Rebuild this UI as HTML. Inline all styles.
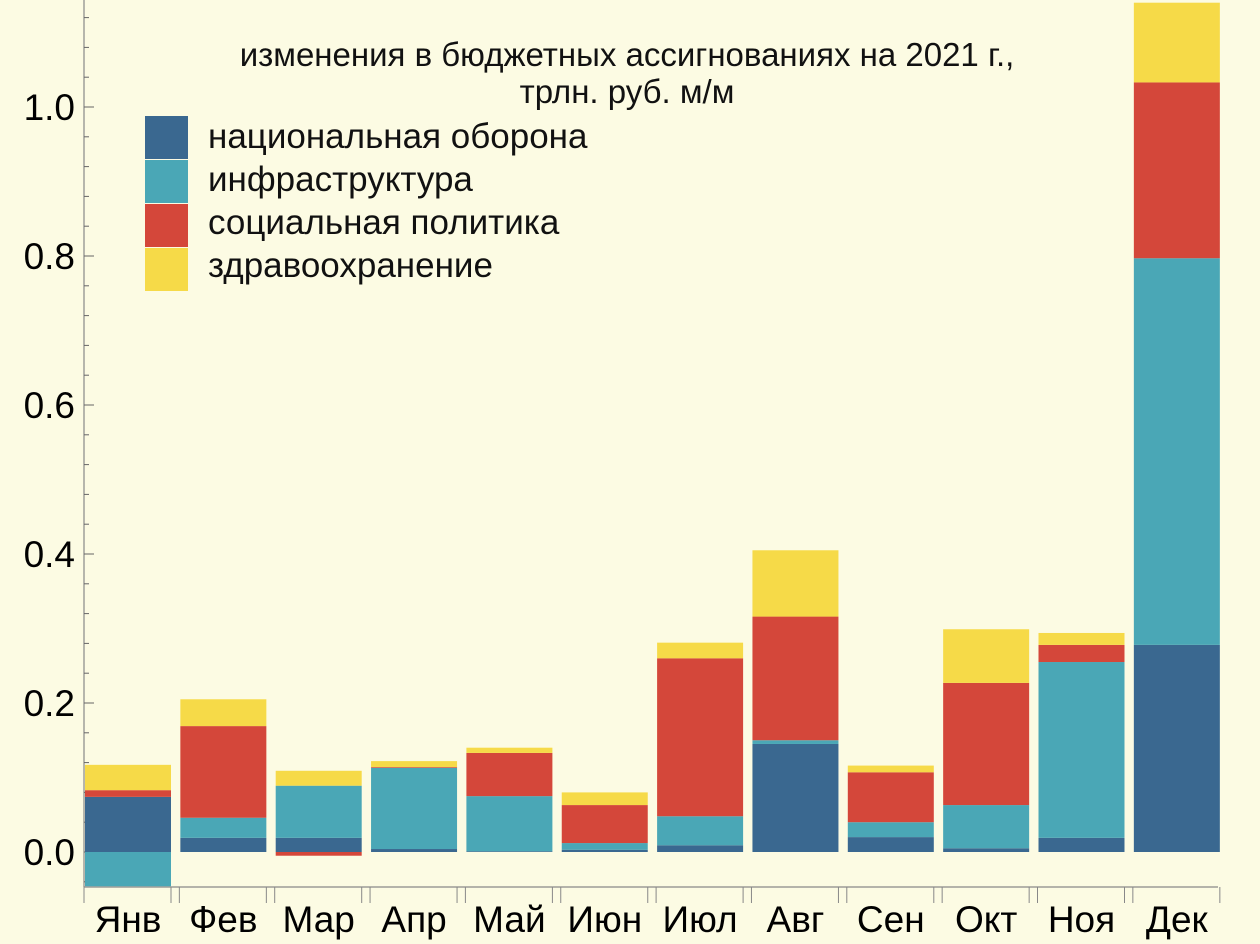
<!DOCTYPE html>
<html><head><meta charset="utf-8"><style>
body{margin:0;background:#fcfbe3;}
svg{display:block;font-family:"Liberation Sans",sans-serif;}
</style></head><body>
<svg id="c" width="1260" height="944">
<rect width="1260" height="944" fill="#fcfbe3"/>
</svg>
<script>
const months=["Янв","Фев","Мар","Апр","Май","Июн","Июл","Авг","Сен","Окт","Ноя","Дек"];
const defense=[0.074,0.019,0.019,0.004,0.001,0.003,0.009,0.145,0.020,0.005,0.019,0.278];
const infra=[-0.046,0.027,0.070,0.109,0.074,0.009,0.039,0.005,0.020,0.058,0.236,0.519];
const social=[0.009,0.123,-0.005,0.001,0.058,0.051,0.212,0.166,0.067,0.164,0.023,0.236];
const health=[0.034,0.036,0.020,0.008,0.007,0.017,0.021,0.089,0.009,0.072,0.016,0.107];
const yTicks=["0.0","0.2","0.4","0.6","0.8","1.0"];
const seriesNames=["национальная оборона","инфраструктура","социальная политика","здравоохранение"];
const colors=["#3a6890","#4aa7b6","#d4473a","#f6da48"];
const NS="http://www.w3.org/2000/svg";
const svg=document.getElementById('c');
function mk(t,a,txt){const e=document.createElementNS(NS,t);for(const k in a)e.setAttribute(k,a[k]);if(txt!=null)e.textContent=txt;svg.appendChild(e);return e;}
const y=v=>852-v*745;
const x0=84,step=95.35,bw=86;
const x=i=>x0+i*step;
// axes
const ax=mk('line',{x1:84,y1:0,x2:84,y2:887,stroke:'#888','stroke-width':1.2});


const bx=mk('line',{x1:84,y1:887,x2:1218,y2:887,stroke:'#888','stroke-width':1.2});


for(let v=-0.04;v<=1.14;v+=0.04){const yy=y(Math.round(v*100)/100);if(yy<0||yy>887)continue;const mj=Math.abs(Math.round(v*100)%20)==0;
const t=mk('line',{x1:84,y1:yy,x2:84+(mj?10:5),y2:yy,stroke:'#666','stroke-width':1});

}
yTicks.forEach(s=>{const t=mk('text',{x:75,y:y(parseFloat(s))+13,'text-anchor':'end','font-size':37,fill:'#000'},s);

});
const series=[defense,infra,social,health];
months.forEach((m,i)=>{let pos=0,neg=0;
series.forEach((s,k)=>{const v=s[i];let a,b;if(v>=0){a=pos;b=pos+v;pos=b;}else{a=neg+v;b=neg;neg=a;}
const r=mk('rect',{x:x(i)+1,y:y(b),width:bw,height:Math.max(0,y(a)-y(b)),fill:colors[k]});

});
const t=mk('line',{x1:x(i),y1:887,x2:x(i),y2:903,stroke:'#888'});


const t2=mk('line',{x1:x(i)+bw+1,y1:887,x2:x(i)+bw+1,y2:903,stroke:'#888'});


const l=mk('text',{x:x(i)+bw/2+1,y:932,'text-anchor':'middle','font-size':37,fill:'#000'},m);

});
const t1=mk('text',{x:627,y:66,'text-anchor':'middle','font-size':33,fill:'#111'},'изменения в бюджетных ассигнованиях на 2021 г.,');


const t2=mk('text',{x:627,y:103,'text-anchor':'middle','font-size':33,fill:'#111'},'трлн. руб. м/м');


seriesNames.forEach((n,k)=>{const r=mk('rect',{x:145,y:116+k*44,width:43,height:43,fill:colors[k]});


const t=mk('text',{x:208,y:148+k*43,'font-size':35,fill:'#111'},n);

});
</script>
</body></html>
